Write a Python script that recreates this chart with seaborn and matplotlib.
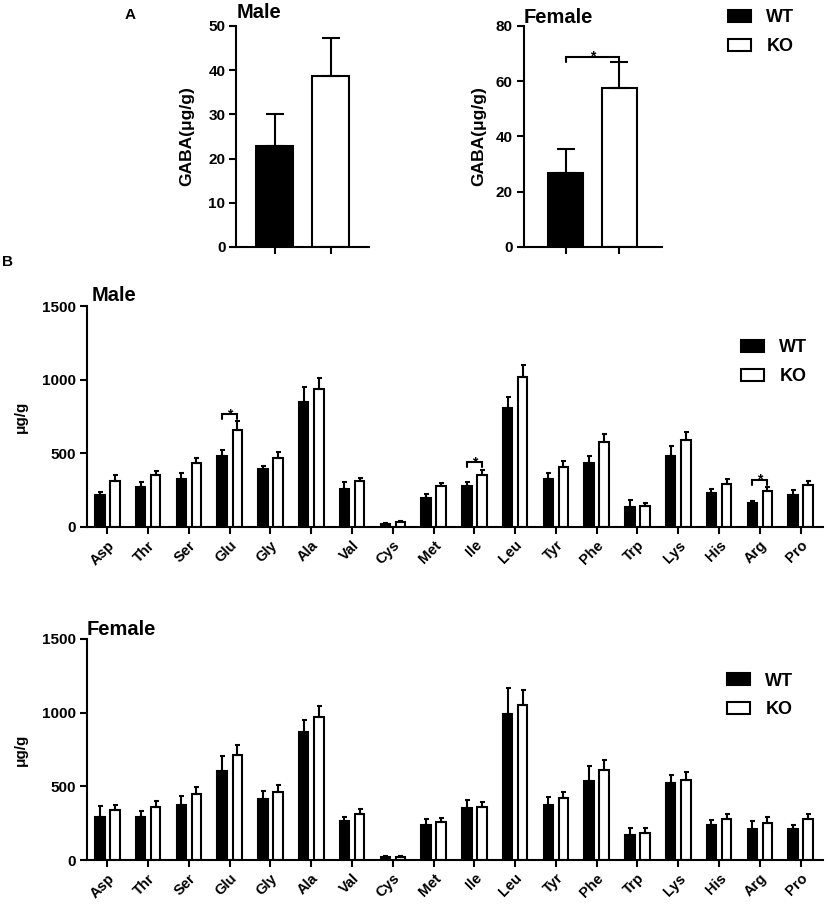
import numpy as np
import pandas as pd
import matplotlib
matplotlib.use('Agg')
import matplotlib.pyplot as plt
import seaborn as sns

# Datos del panel A (GABA, media y desviación)
grupos = ['WT', 'KO']
gaba_macho = [22.8, 38.7]
gaba_macho_sd = [7.4, 8.5]
gaba_hembra = [26.9, 57.4]
gaba_hembra_sd = [8.5, 9.4]

# Datos del panel B (aminoácidos, µg/g)
aminoacidos = ['Asp', 'Thr', 'Ser', 'Glu', 'Gly', 'Ala', 'Val', 'Cys', 'Met',
               'Ile', 'Leu', 'Tyr', 'Phe', 'Trp', 'Lys', 'His', 'Arg', 'Pro']

macho_wt = [215, 270, 329, 480, 397, 850, 261, 22, 199, 276, 807, 326, 437, 138, 485, 231, 161, 215]
macho_wt_sd = [23, 34, 40, 41, 18, 99, 45, 6, 25, 28, 72, 41, 43, 43, 63, 27, 16, 34]
macho_ko = [310, 353, 433, 657, 465, 940, 310, 32, 276, 356, 1017, 410, 580, 140, 591, 295, 247, 286]
macho_ko_sd = [43, 30, 36, 63, 47, 71, 23, 6, 21, 29, 80, 36, 50, 23, 53, 31, 27, 24]

hembra_wt = [295, 295, 374, 605, 415, 870, 263, 20, 240, 351, 990, 372, 537, 168, 521, 236, 213, 213]
hembra_wt_sd = [74, 40, 61, 104, 50, 77, 32, 7, 39, 59, 175, 56, 100, 52, 59, 34, 50, 25]
hembra_ko = [338, 360, 449, 714, 462, 972, 310, 23, 261, 363, 1051, 419, 614, 186, 546, 281, 254, 279]
hembra_ko_sd = [38, 41, 47, 66, 46, 75, 37, 6, 27, 34, 105, 43, 64, 32, 52, 34, 36, 36]

# Diferencias significativas (aminoácido, altura del corchete)
sig_macho = [('Glu', 767), ('Ile', 441), ('Arg', 321)]

colores = {'WT': 'black', 'KO': 'white'}

sns.set_style('ticks')
plt.rcParams['font.family'] = ['Liberation Sans', 'DejaVu Sans']
plt.rcParams['font.weight'] = 'bold'
plt.rcParams['axes.linewidth'] = 1.5
plt.rcParams['axes.edgecolor'] = 'black'
plt.rcParams['axes.labelcolor'] = 'black'
plt.rcParams['text.color'] = 'black'
plt.rcParams['xtick.color'] = 'black'
plt.rcParams['ytick.color'] = 'black'

W, H = 829, 907
fig = plt.figure(figsize=(W / 100, H / 100), dpi=100)


def caja(x0, x1, y0, y1):
    return [x0 / W, 1 - y1 / H, (x1 - x0) / W, (y1 - y0) / H]


def estilo(ax, largo):
    sns.despine(ax=ax)
    ax.tick_params(axis='both', direction='out', length=largo, width=1.5, pad=3)
    ax.tick_params(axis='y', labelsize=11)
    for t in ax.get_yticklabels():
        t.set_fontweight('bold')


def corchete(ax, x0, x1, y, baja, tam):
    ax.plot([x0, x0, x1, x1], [y - baja, y, y, y - baja], color='black', lw=1.5,
            solid_joinstyle='miter', zorder=4)
    ax.annotate('*', xy=((x0 + x1) / 2, y), xytext=(0, -3), textcoords='offset points',
                ha='center', va='baseline', fontsize=tam, fontweight='bold')


def leyenda(dueno, barras, ancla, **kw):
    return dueno.legend(barras, grupos, loc='upper left', bbox_to_anchor=ancla,
                        bbox_transform=fig.transFigure, frameon=False,
                        prop={'weight': 'bold', 'size': 13}, borderpad=0, borderaxespad=0,
                        handlelength=1.28, handleheight=0.61, handletextpad=0.85,
                        labelspacing=0.66, **kw)


def panel_gaba(rect, medias, sds, ymax, paso, xlim, titulo, base_titulo, ylab_x):
    ax = fig.add_axes(rect)
    df = pd.DataFrame({'Grupo': grupos, 'GABA': medias})
    sns.barplot(data=df, x='Grupo', y='GABA', hue='Grupo', order=grupos, hue_order=grupos,
                palette=colores, edgecolor='black', linewidth=1.5, width=0.66,
                errorbar=None, legend=False, ax=ax)
    barras = list(ax.containers)
    centros = [b.get_x() + b.get_width() / 2 for c in barras for b in c]
    ax.errorbar(centros, medias, yerr=[np.zeros(len(medias)), sds], fmt='none',
                ecolor='black', elinewidth=1.5, capsize=6.5, capthick=1.5, zorder=3)
    ax.set_xlim(*xlim)
    ax.set_ylim(0, ymax)
    ax.set_yticks(np.arange(0, ymax + 1, paso))
    ax.set_xticks([0, 1])
    ax.set_xticklabels([])
    ax.set_xlabel('')
    ax.set_ylabel('GABA(μg/g)', fontsize=12.5, fontweight='bold')
    ax.yaxis.set_label_coords(ylab_x, 0.5)
    estilo(ax, 5)
    fig.text(rect[0], 1 - base_titulo / H, titulo, ha='left', va='baseline',
             fontsize=14.5, fontweight='bold')
    return ax, barras, centros


def panel_aa(rect, wt, wt_sd, ko, ko_sd, titulo, base_titulo, x_titulo, pos_leyenda, marcas=()):
    ax = fig.add_axes(rect)
    n = len(aminoacidos)
    df = pd.DataFrame({'Aminoacido': aminoacidos * 2,
                       'Grupo': ['WT'] * n + ['KO'] * n,
                       'Valor': wt + ko})
    sns.barplot(data=df, x='Aminoacido', y='Valor', hue='Grupo', order=aminoacidos,
                hue_order=grupos, palette=colores, edgecolor='black', linewidth=1.5,
                width=0.74, gap=0.37, errorbar=None, legend=False, ax=ax)
    barras = list(ax.containers)
    centros = {}
    for g, c, vals, sds in zip(grupos, barras, [wt, ko], [wt_sd, ko_sd]):
        xs = [b.get_x() + b.get_width() / 2 for b in c]
        centros[g] = xs
        ax.errorbar(xs, vals, yerr=[np.zeros(n), sds], fmt='none', ecolor='black',
                    elinewidth=1.5, capsize=1.8, capthick=1.5, zorder=3)
    for aa, y in marcas:
        i = aminoacidos.index(aa)
        corchete(ax, centros['WT'][i], centros['KO'][i], y, 35, 10)
    ax.set_xlim(-0.5, 17.55)
    ax.set_ylim(0, 1500)
    ax.set_yticks([0, 500, 1000, 1500])
    ax.set_xlabel('')
    ax.set_ylabel('μg/g', fontsize=11, fontweight='bold')
    ax.yaxis.set_label_coords(-0.080, 0.5)
    estilo(ax, 5)
    plt.setp(ax.get_xticklabels(), rotation=45, ha='right', rotation_mode='anchor',
             fontsize=10.5, fontweight='bold')
    fig.text(x_titulo / W, 1 - base_titulo / H, titulo, ha='left', va='baseline',
             fontsize=14.5, fontweight='bold')
    leyenda(ax, barras, pos_leyenda)
    return ax


# Panel A
ax_m, barras_a, _ = panel_gaba(caja(236.5, 369, 26, 247), gaba_macho, gaba_macho_sd, 50, 10,
                               (-0.687, 1.679), 'Male', 18, -0.32)
ax_h, _, cent_h = panel_gaba(caja(523.5, 661.5, 26, 247), gaba_hembra, gaba_hembra_sd, 80, 20,
                             (-0.78, 1.78), 'Female', 23, -0.272)
corchete(ax_h, cent_h[0], cent_h[1], 68.9, 1.8, 10)
leyenda(fig, barras_a, (728 / W, 1 - 9.5 / H))
fig.text(130 / W, 1 - 15 / H, 'A', ha='center', va='center', fontsize=11, fontweight='bold')
fig.text(8 / W, 1 - 262 / H, 'B', ha='center', va='center', fontsize=11, fontweight='bold')

# Panel B
panel_aa(caja(87, 823, 306, 527), macho_wt, macho_wt_sd, macho_ko, macho_ko_sd,
         'Male', 301, 92, (741 / W, 1 - 339.5 / H), sig_macho)
panel_aa(caja(87, 823, 639, 860), hembra_wt, hembra_wt_sd, hembra_ko, hembra_ko_sd,
         'Female', 635, 87, (727 / W, 1 - 672.5 / H))

fig.savefig('out.png', dpi=100)
